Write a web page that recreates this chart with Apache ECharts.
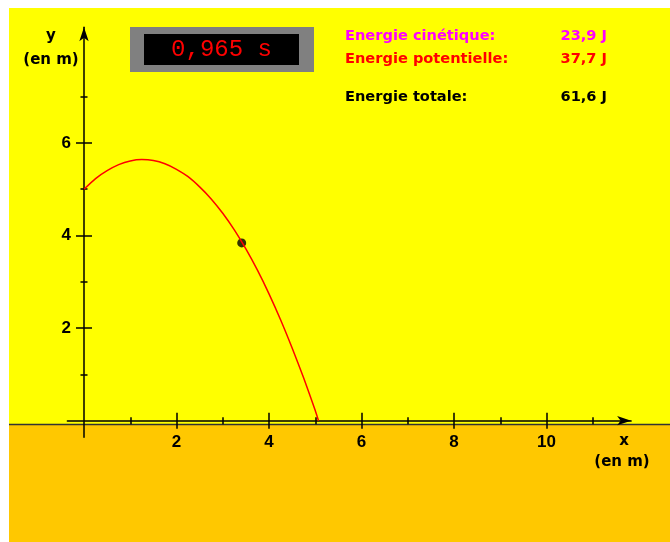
<!DOCTYPE html>
<html>
<head>
<meta charset="utf-8">
<script src="https://cdn.jsdelivr.net/npm/echarts@6/dist/echarts.min.js"></script>
<style>
html,body{margin:0;padding:0;background:#fff;}
#chute{width:670px;height:542px;}
</style>
</head>
<body>
<div id="chute"></div>
<script>
// trajectoire (en m)
var trajX = [0, 0.25, 0.5, 0.75, 1, 1.25, 1.5, 1.75, 2, 2.25, 2.5, 2.75, 3, 3.25, 3.5, 3.75, 4, 4.25, 4.5, 4.75, 5, 5.07];
var trajY = [5.0, 5.23, 5.40, 5.53, 5.61, 5.64, 5.62, 5.55, 5.43, 5.27, 5.05, 4.79, 4.48, 4.12, 3.71, 3.25, 2.74, 2.18, 1.57, 0.92, 0.22, 0];
// position du mobile
var mobileX = [3.41];
var mobileY = [3.84];
// graduations
var gradXMaj = [2, 4, 6, 8, 10];
var gradXMin = [1, 3, 5, 7, 9, 11];
var gradYMaj = [2, 4, 6];
var gradYMin = [1, 3, 5, 7];
// affichages
var tempsTxt = '0,965 s';
var energieNoms = ['Energie cinétique:', 'Energie potentielle:', 'Energie totale:'];
var energieVals = ['23,9 J', '37,7 J', '61,6 J'];

var couleurs = ['#FF00FF', '#FF0000', '#000000'];
var ligneY = [36, 59.5, 97];
var policeTxt = 'bold 14.6px "DejaVu Sans"';
var policeAxe = 'bold 15px "DejaVu Sans"';

// un axe par sens de graduation (dessus / dessous)
function axe(dim, grads, long, dedans, principal) {
    var o = {
        type: 'value',
        position: dim == 'x' ? 'bottom' : 'left',
        min: -0.36,
        max: dim == 'x' ? 11.83 : 8.5,
        axisLine: {
            show: principal,
            onZero: true,
            onZeroAxisIndex: 0,
            symbol: ['none', 'arrow'],
            symbolSize: [7, 14],
            lineStyle: {color: '#000', width: 1.5}
        },
        axisTick: {
            show: true,
            inside: dedans,
            length: long,
            customValues: grads,
            lineStyle: {color: '#000', width: 1.5}
        },
        axisLabel: {
            show: principal,
            customValues: dim == 'x' ? gradXMaj : gradYMaj,
            margin: -3.7, // les libelles partent du bord de la grille
            color: '#000',
            fontFamily: 'Liberation Sans',
            fontWeight: 'bold',
            fontSize: 17
        },
        splitLine: {show: false}
    };
    return o;
}

function texte(t, x, y, couleur, police, align) {
    return {
        type: 'text',
        silent: true,
        z: 5,
        style: {
            text: t, x: x, y: y,
            fill: couleur,
            font: police,
            textAlign: align || 'left', align: align || 'left',
            textVerticalAlign: 'middle', verticalAlign: 'middle'
        }
    };
}

var decor = [
    {type: 'rect', silent: true, z: -10, shape: {x: 9, y: 8, width: 661, height: 417}, style: {fill: '#FFFF00'}},
    {type: 'rect', silent: true, z: -10, shape: {x: 9, y: 425, width: 661, height: 117}, style: {fill: '#FFC800'}},
    {type: 'line', silent: true, z: -9, shape: {x1: 9, y1: 424.5, x2: 670, y2: 424.5}, style: {stroke: '#333', lineWidth: 1.5}},
    {type: 'rect', silent: true, z: 1, shape: {x: 130, y: 27, width: 184, height: 45}, style: {fill: '#808080'}},
    {type: 'rect', silent: true, z: 2, shape: {x: 144, y: 34, width: 155, height: 31}, style: {fill: '#000'}},
    texte(tempsTxt, 221.5, 50, '#FF0000', '24px "Liberation Mono"', 'center'),
    texte('y', 51, 36, '#000', policeAxe, 'center'),
    texte('(en m)', 51, 60, '#000', policeAxe, 'center'),
    texte('x', 624, 441, '#000', policeAxe, 'center'),
    texte('(en m)', 622, 462, '#000', policeAxe, 'center')
];
for (var i = 0; i < energieNoms.length; i++) {
    decor.push(texte(energieNoms[i], 345, ligneY[i], couleurs[i], policeTxt));
    decor.push(texte(energieVals[i], 560.5, ligneY[i], couleurs[i], policeTxt));
}

var chuteChart = echarts.init(document.getElementById('chute'));
chuteChart.setOption({
    animation: false,
    backgroundColor: '#fff',
    grid: {
        left: 67.35,
        top: 27.15,
        width: 563.8,
        height: 410.2,
        outerBoundsMode: 'none',
        containLabel: false
    },
    graphic: decor,
    xAxis: [
        axe('x', gradXMaj, 8, false, true),
        axe('x', gradXMaj, 8, true, false),
        axe('x', gradXMin, 3.5, false, false),
        axe('x', gradXMin, 3.5, true, false)
    ],
    yAxis: [
        axe('y', gradYMaj, 8, false, true),
        axe('y', gradYMaj, 8, true, false),
        axe('y', gradYMin, 3.5, false, false),
        axe('y', gradYMin, 3.5, true, false)
    ],
    series: [
        {
            type: 'scatter',
            z: 2,
            symbolSize: 9,
            itemStyle: {color: '#000'},
            data: mobileX.map(function (v, i) { return [v, mobileY[i]]; })
        },
        {
            type: 'line',
            z: 3,
            smooth: 0.2,
            showSymbol: false,
            lineStyle: {color: '#FF0000', width: 1.5},
            data: trajX.map(function (v, i) { return [v, trajY[i]]; })
        }
    ]
});
</script>
</body>
</html>
